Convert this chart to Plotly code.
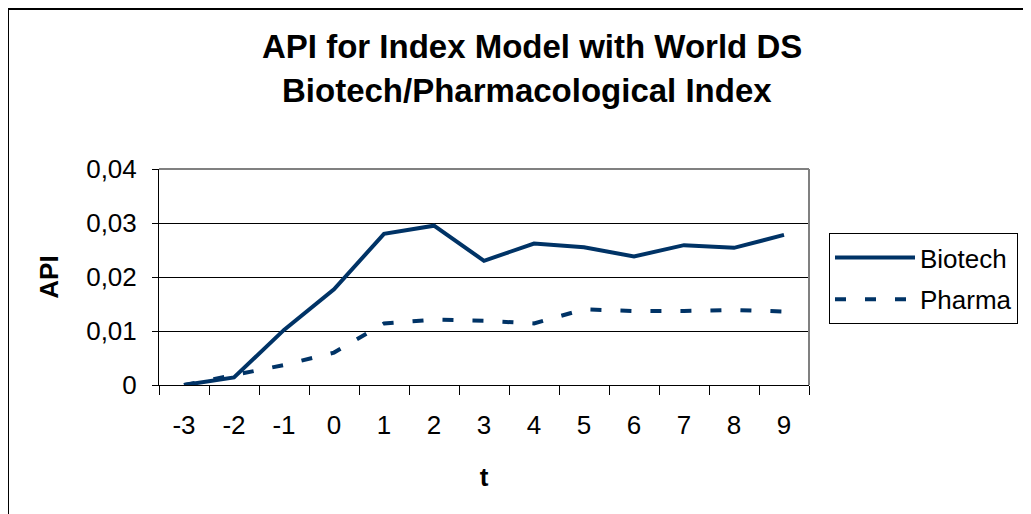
import plotly.graph_objects as go

# Event-time axis (categories) and API values
t_labels = ["-3", "-2", "-1", "0", "1", "2", "3", "4", "5", "6", "7", "8", "9"]
biotech = [0.0, 0.0014, 0.0102, 0.0177, 0.0280, 0.0295, 0.0230, 0.0262,
           0.0255, 0.0238, 0.0259, 0.0254, 0.0278]
pharma = [0.0, 0.0018, 0.0037, 0.0060, 0.0114, 0.0121, 0.0119, 0.0114,
          0.0140, 0.0137, 0.0137, 0.0139, 0.0136]

FONT = "Liberation Sans, Arial, sans-serif"
NAVY = "#003366"

# plot area in screen px (page has an 8px body margin)
PX0, PX1, PY0, PY1 = 159, 809, 169, 385
PW, PH = PX1 - PX0, PY1 - PY0


def px(x):
    return (x - PX0) / PW


def py(y):
    return (PY1 - y) / PH


fig = go.Figure()
fig.add_trace(go.Scatter(x=t_labels, y=biotech, name="Biotech", mode="lines",
                         legendgroup="b", line=dict(color=NAVY, width=4)))
fig.add_trace(go.Scatter(x=t_labels, y=pharma, name="Pharma", mode="lines",
                         legendgroup="p", line=dict(color=NAVY, width=4, dash="11px,19px")))

# title lines
for text, cx, cy in [("API for Index Model with World DS", 532, 46),
                     ("Biotech/Pharmacological Index", 527, 90)]:
    fig.add_annotation(text=f"<b>{text}</b>", xref="paper", yref="paper",
                       x=px(cx), y=py(cy), xanchor="center", yanchor="middle",
                       showarrow=False, font=dict(size=33, color="black", family=FONT))

# outer chart frame and grey top/right of plot area
fig.add_shape(type="rect", xref="paper", yref="paper", x0=px(8), x1=2,
              y0=-1, y1=py(9), line=dict(color="black", width=2), layer="below")
fig.add_shape(type="line", xref="paper", yref="paper", x0=0, x1=1, y0=1, y1=1,
              line=dict(color="#808080", width=2))
fig.add_shape(type="line", xref="paper", yref="paper", x0=1, x1=1, y0=0, y1=1,
              line=dict(color="#808080", width=2))

fig.update_layout(
    width=1031, height=514,
    margin=dict(l=PX0 - 8, r=1031 - (PX1 - 8), t=PY0 - 8, b=514 - (PY1 - 8)),
    paper_bgcolor="white", plot_bgcolor="white",
    font=dict(family=FONT, size=26, color="black"),
    separators=",.",
    showlegend=True,
    legend=dict(x=px(829), y=py(233), xanchor="left", yanchor="top",
                bgcolor="white", bordercolor="black", borderwidth=1, tracegroupgap=5,
                font=dict(size=26, family=FONT), itemwidth=80),
    xaxis=dict(type="category", range=[-0.5, 12.5], tickson="boundaries",
               ticks="outside", ticklen=9, tickcolor="black", showgrid=False,
               showline=True, linecolor="black", linewidth=1, ticklabelstandoff=17,
               title=dict(text="<b>t</b>", font=dict(size=26), standoff=28)),
    yaxis=dict(range=[0, 0.04], dtick=0.01, ticks="outside", ticklen=6, tickcolor="black",
               showgrid=True, gridcolor="black", gridwidth=1, zeroline=False,
               showline=True, linecolor="black", linewidth=1, ticklabelstandoff=10,
               title=dict(text="<b>API</b>", font=dict(size=26), standoff=20)),
)

fig.write_html("out.html")
